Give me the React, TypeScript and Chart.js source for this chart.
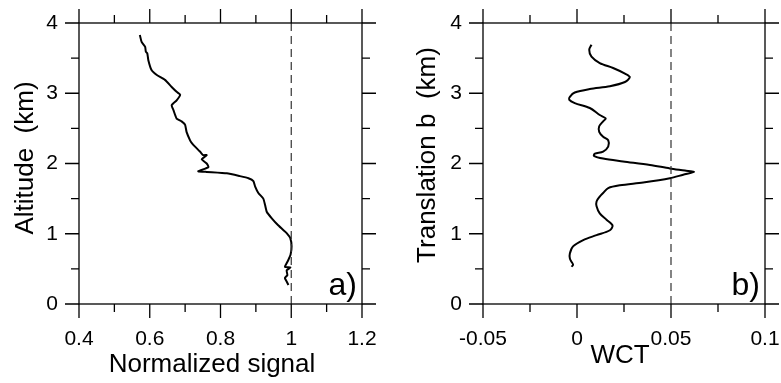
import React, { useEffect, useRef } from "react";
import { Chart, registerables } from "chart.js";

Chart.register(...registerables);

// ---- Panel a) : normalized signal vs altitude ----
const altitudeA = [3.83, 3.73, 3.66, 3.59, 3.57, 3.47, 3.33, 3.26, 3.19, 3.09, 3.02, 2.98, 2.90, 2.83, 2.76, 2.64, 2.60, 2.55, 2.45, 2.33, 2.29, 2.24, 2.17, 2.12, 2.12, 2.06, 2.00, 1.95, 1.91, 1.89, 1.88, 1.86, 1.82, 1.79, 1.75, 1.67, 1.58, 1.50, 1.41, 1.31, 1.22, 1.12, 1.05, 1.01, 0.94, 0.82, 0.70, 0.63, 0.58, 0.53, 0.52, 0.48, 0.41, 0.37, 0.32, 0.27];
const signalA = [0.572, 0.577, 0.587, 0.589, 0.593, 0.596, 0.605, 0.620, 0.643, 0.662, 0.676, 0.686, 0.676, 0.662, 0.667, 0.676, 0.690, 0.700, 0.704, 0.714, 0.719, 0.728, 0.742, 0.751, 0.761, 0.747, 0.761, 0.766, 0.747, 0.737, 0.761, 0.818, 0.855, 0.879, 0.893, 0.898, 0.907, 0.921, 0.926, 0.931, 0.945, 0.963, 0.978, 0.987, 0.997, 1.001, 0.998, 0.992, 0.987, 0.982, 0.998, 0.987, 0.989, 0.982, 0.987, 0.992];
const referenceA = 1;

// ---- Panel b) : WCT vs translation b ----
const translationB = [3.69, 3.62, 3.52, 3.43, 3.36, 3.28, 3.23, 3.16, 3.10, 3.06, 3.01, 2.95, 2.91, 2.86, 2.79, 2.69, 2.64, 2.60, 2.53, 2.45, 2.38, 2.33, 2.24, 2.17, 2.14, 2.11, 2.07, 2.03, 1.98, 1.93, 1.90, 1.88, 1.84, 1.79, 1.73, 1.69, 1.65, 1.58, 1.53, 1.46, 1.39, 1.29, 1.20, 1.12, 1.05, 0.98, 0.91, 0.82, 0.72, 0.65, 0.60, 0.56, 0.53];
const wctB = [0.0077, 0.0065, 0.0077, 0.0121, 0.0192, 0.0255, 0.0281, 0.0255, 0.0175, 0.0068, -0.0012, -0.0038, -0.0042, -0.0012, 0.0068, 0.0121, 0.0153, 0.0139, 0.0118, 0.0118, 0.0139, 0.0166, 0.0166, 0.0139, 0.0095, 0.0090, 0.0139, 0.0245, 0.0388, 0.0494, 0.0574, 0.0622, 0.0565, 0.0494, 0.0352, 0.0228, 0.0166, 0.0139, 0.0121, 0.0104, 0.0104, 0.0121, 0.0157, 0.0189, 0.0175, 0.0104, 0.0033, -0.0021, -0.0038, -0.0038, -0.0029, -0.0021, -0.0029];
const referenceB = 0.05;

// ---- ticks ----
const xMajorA = [0.4, 0.6, 0.8, 1.0, 1.2];
const xLabelsA = ["0.4", "0.6", "0.8", "1", "1.2"];
const xMinorA = [0.5, 0.7, 0.9, 1.1];
const xMajorB = [-0.05, 0, 0.05, 0.1];
const xLabelsB = ["-0.05", "0", "0.05", "0.1"];
const xMinorB = [-0.025, 0.025, 0.075];
const yMajor = [0, 1, 2, 3, 4];
const yLabels = ["0", "1", "2", "3", "4"];
const yMinor = [0.5, 1.5, 2.5, 3.5];

const FONT = "'Liberation Sans', Arial, Helvetica, sans-serif";

type Panel = {
  xs: number[];
  ys: number[];
  ref: number;
  xMin: number;
  xMax: number;
  xMajor: number[];
  xLabels: string[];
  xMinor: number[];
  xTitle: string;
  yTitle: string;
  tag: string;
  width: number;
  yAxisWidth: number;
  padRight: number;
  tension: number;
  xTitlePos: [number, number];
  yTitlePos: [number, number];
  tagPos: [number, number];
};

const panels: Panel[] = [
  {
    xs: signalA, ys: altitudeA, ref: referenceA, xMin: 0.4, xMax: 1.2,
    xMajor: xMajorA, xLabels: xLabelsA, xMinor: xMinorA,
    xTitle: "Normalized signal", yTitle: "Altitude  (km)", tag: "a)",
    width: 390, yAxisWidth: 79, padRight: 28, tension: 0.15,
    xTitlePos: [212, 372], yTitlePos: [33, 158], tagPos: [357, 295],
  },
  {
    xs: wctB, ys: translationB, ref: referenceB, xMin: -0.05, xMax: 0.1,
    xMajor: xMajorB, xLabels: xLabelsB, xMinor: xMinorB,
    xTitle: "WCT", yTitle: "Translation b  (km)", tag: "b)",
    width: 391, yAxisWidth: 93, padRight: 16, tension: 0.3,
    xTitlePos: [230, 363], yTitlePos: [45, 155], tagPos: [370, 295],
  },
];

function makeFramePlugin(p: Panel) {
  return {
    id: "frameTicks",
    afterDraw(chart: any) {
      const { ctx } = chart;
      const xs = chart.scales.x;
      const ys = chart.scales.y;
      const left = xs.getPixelForValue(p.xMin);
      const right = xs.getPixelForValue(p.xMax);
      const top = ys.getPixelForValue(4);
      const bottom = ys.getPixelForValue(0);
      ctx.save();
      ctx.strokeStyle = "#000";
      ctx.lineWidth = 1.3;
      ctx.strokeRect(left, top, right - left, bottom - top);
      const major = 14;
      const minor = 8;
      ctx.beginPath();
      const xt = (v: number, len: number) => {
        const px = xs.getPixelForValue(v);
        ctx.moveTo(px, bottom);
        ctx.lineTo(px, bottom + len);
        ctx.moveTo(px, top);
        ctx.lineTo(px, top - len);
      };
      const yt = (v: number, len: number) => {
        const py = ys.getPixelForValue(v);
        ctx.moveTo(left, py);
        ctx.lineTo(left - len, py);
        ctx.moveTo(right, py);
        ctx.lineTo(right + len, py);
      };
      p.xMajor.forEach((v) => xt(v, major));
      p.xMinor.forEach((v) => xt(v, minor));
      yMajor.forEach((v) => yt(v, major));
      yMinor.forEach((v) => yt(v, minor));
      ctx.stroke();

      ctx.fillStyle = "#000";
      ctx.font = `26px ${FONT}`;
      ctx.textAlign = "center";
      ctx.textBaseline = "alphabetic";
      ctx.fillText(p.xTitle, p.xTitlePos[0], p.xTitlePos[1]);
      ctx.save();
      ctx.translate(p.yTitlePos[0], p.yTitlePos[1]);
      ctx.rotate(-Math.PI / 2);
      ctx.fillText(p.yTitle, 0, 0);
      ctx.restore();
      ctx.font = `32px ${FONT}`;
      ctx.textAlign = "right";
      ctx.fillText(p.tag, p.tagPos[0], p.tagPos[1]);
      ctx.restore();
    },
  };
}

function PanelChart({ p, left }: { p: Panel; left: number }) {
  const ref = useRef<HTMLCanvasElement | null>(null);
  useEffect(() => {
    if (!ref.current) return;
    const chart = new Chart(ref.current, {
      type: "scatter",
      data: {
        datasets: [
          {
            data: [
              { x: p.ref, y: 0 },
              { x: p.ref, y: 4 },
            ],
            showLine: true,
            borderColor: "#333",
            borderWidth: 1.2,
            borderDash: [8, 5],
            pointRadius: 0,
          },
          {
            data: p.xs.map((x, i) => ({ x, y: p.ys[i] })),
            showLine: true,
            borderColor: "#000",
            borderWidth: 2,
            pointRadius: 0,
            tension: p.tension,
          },
        ],
      },
      options: {
        responsive: false,
        animation: false,
        devicePixelRatio: 1,
        layout: { padding: { top: 23, right: p.padRight, left: 0, bottom: 0 } },
        plugins: { legend: { display: false }, tooltip: { enabled: false } },
        scales: {
          x: {
            type: "linear",
            position: "bottom",
            min: p.xMin,
            max: p.xMax,
            grid: { display: false, drawTicks: false },
            border: { display: false },
            afterBuildTicks: (s: any) => {
              s.ticks = p.xMajor.map((v) => ({ value: v }));
            },
            afterFit: (s: any) => {
              s.height = 79;
              s.paddingLeft = 0;
              s.paddingRight = p.padRight;
              s.paddingTop = 0;
              s.paddingBottom = 0;
            },
            ticks: {
              autoSkip: false,
              maxRotation: 0,
              padding: 23,
              color: "#000",
              font: { family: FONT, size: 21 },
              callback: (_v: any, i: number) => p.xLabels[i],
            },
          },
          y: {
            type: "linear",
            position: "left",
            min: 0,
            max: 4,
            grid: { display: false, drawTicks: false },
            border: { display: false },
            afterBuildTicks: (s: any) => {
              s.ticks = yMajor.map((v) => ({ value: v }));
            },
            afterFit: (s: any) => {
              s.width = p.yAxisWidth;
              s.paddingLeft = 0;
              s.paddingRight = 0;
              s.paddingTop = 0;
              s.paddingBottom = 0;
            },
            ticks: {
              autoSkip: false,
              padding: 21,
              color: "#000",
              font: { family: FONT, size: 21 },
              callback: (_v: any, i: number) => yLabels[i],
            },
          },
        },
      },
      plugins: [makeFramePlugin(p)],
    } as any);
    return () => chart.destroy();
  }, [p]);
  return (
    <canvas
      ref={ref}
      width={p.width}
      height={383}
      style={{ position: "absolute", left, top: 0, width: p.width, height: 383 }}
    />
  );
}

export default function App() {
  return (
    <div style={{ position: "absolute", left: 0, top: 0, width: 781, height: 383, background: "#fff", overflow: "hidden" }}>
      <PanelChart p={panels[0]} left={0} />
      <PanelChart p={panels[1]} left={390} />
    </div>
  );
}
